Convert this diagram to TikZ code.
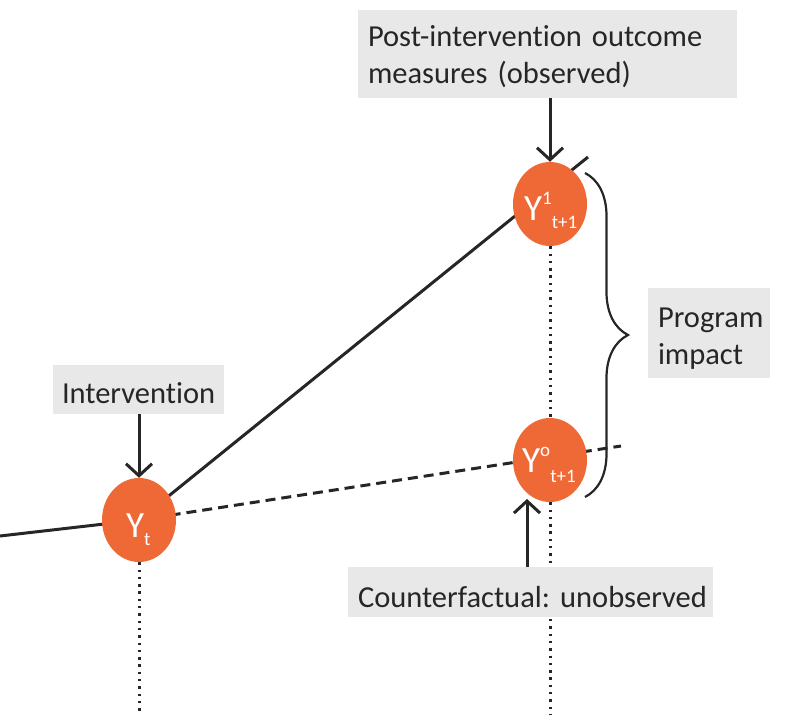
\documentclass[tikz,border=0pt]{standalone}
\usepackage{fontspec}
\setmainfont{Carlito}[Ligatures=NoCommon]
\usetikzlibrary{shapes.geometric,arrows.meta,decorations.pathreplacing,backgrounds}
\definecolor{orng}{HTML}{EE6936}
\definecolor{boxg}{HTML}{E7E8E7}
\definecolor{ink}{HTML}{262626}
\newcommand{\smallfs}{\fontsize{19}{19}\selectfont}
\newcommand{\pushdown}[2]{\raisebox{0pt}[\dimexpr\height+#1\relax]{#2}}
\frenchspacing
\begin{document}
\begin{tikzpicture}[x=1pt,y=-1pt,
  yball/.style={ellipse, fill=orng, minimum width=74pt, minimum height=84pt, inner sep=0pt},
  ylab/.style={text=white, font=\fontsize{37}{37}\selectfont, inner sep=0pt, anchor=base west},
  gbox/.style={fill=boxg, text=ink, font=\fontsize{30.5}{37}\selectfont\frenchspacing, align=left, inner xsep=10pt, inner ysep=0pt, anchor=center},
  arr/.style={draw=ink, line width=3pt, -{Straight Barb[length=12pt,width=26pt]}},
  solidline/.style={draw=ink, line width=3pt},
  dashline/.style={draw=ink, line width=3pt, dash pattern=on 10pt off 6pt},
  dotline/.style={draw=ink, line width=3pt, dash pattern=on 2.4pt off 4.9pt},
  bracestyle/.style={draw=ink, line width=2.2pt, decorate, decoration={brace, amplitude=43pt}}
]
\useasboundingbox (0,0) rectangle (796,715);

% balls
\node[yball] (Yt) at (139,520) {};
\node[yball] (Y1) at (550,204) {};
\node[yball] (Y0) at (550,460) {};

\node[ylab] (Ytl) at (126,537) {Y\raisebox{-8pt}{\smallfs t}};
\node[ylab] (Y1l) at (524,220) {Y\raisebox{16pt}{\smallfs 1}\raisebox{-8pt}{\smallfs t+1}};
\node[ylab] (Y0l) at (522,472) {Y\raisebox{16pt}{\smallfs o}\raisebox{-10pt}{\smallfs t+1}};

% boxes
\node[gbox, text width=359pt, minimum width=379pt, minimum height=88pt] (post) at (547.5,54)
  {\pushdown{6pt}{Post-intervention outcome}\\measures (observed)};
\node[gbox, text width=153pt, minimum width=171pt, minimum height=49pt, inner xsep=9pt] (interv) at (138.5,389.5)
  {\pushdown{8pt}{Intervention}};
\node[gbox, text width=102pt, minimum width=122pt, minimum height=90pt] (impact) at (709,333)
  {\pushdown{12pt}{Program}\\impact};
\node[gbox, text width=345pt, minimum width=365pt, minimum height=50pt] (counter) at (530.5,592)
  {\pushdown{11pt}{Counterfactual: unobserved}};

% free ends
\coordinate (l0) at (0,536);
\coordinate (e1) at (588,157);
\coordinate (e0) at (621,446);
\coordinate (dt) at (139,715);
\coordinate (d0) at (550,715);
\coordinate (cfTip) at (527,499);
\coordinate (bTop) at (585,173);
\coordinate (bBot) at (585,497);

\begin{scope}[on background layer]
  \draw[solidline] (l0) -- (Yt.center);
  \draw[solidline] (Yt.center) -- (e1);
  \draw[dashline] (Yt.center) -- (e0);
  \draw[dotline] (Yt.south) -- (dt);
  \draw[dotline] (Y1.south) -- (Y0.north);
  \draw[dotline] (Y0.south) -- (d0);
\end{scope}

% arrows
\draw[arr] (Y1.north |- post.south) -- (Y1.north);
\draw[arr] (Yt.north |- interv.south) -- (Yt.north);
\draw[arr] (cfTip |- counter.north) -- (cfTip);

% brace
\draw[bracestyle] (bTop) -- (bBot);
\end{tikzpicture}
\end{document}
